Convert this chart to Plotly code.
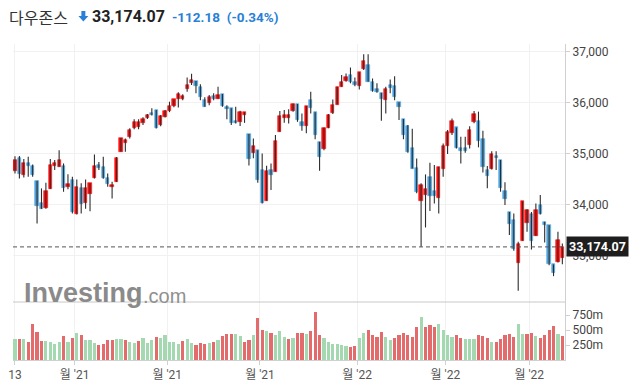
import plotly.graph_objects as go

# ---------------- data ----------------
opens = [34660, 34920, 34580, 34815, 34760, 34465, 34025, 33930, 34315, 34765,
         34745, 34760, 34345, 34485, 33810, 34325, 34040, 34220, 34515, 34770,
         34740, 34530, 34340, 34450, 35040, 35220, 35320, 35500, 35515, 35610,
         35705, 35795, 35855, 35555, 35725, 35835, 35940, 36065, 36070, 36275,
         36390, 36425, 36315, 36050, 35985, 36130, 36080, 36170, 35920, 35890,
         35640, 35630, 35765, 35385, 35020, 35070, 34690, 34080, 34690, 34650,
         35430, 35705, 35705, 35845, 35975, 35615, 35550, 36050, 35815, 35235,
         35085, 35510, 35790, 35965, 36315, 36430, 36540, 36410, 36335, 36655,
         36740, 36410, 36260, 36195, 36050, 36345, 36325, 36010, 35680, 35550,
         35115, 34725, 34070, 34190, 34550, 34275, 34135, 34710, 35155, 35400,
         35515, 35115, 35115, 35170, 35630, 35640, 35290, 34690, 34695, 34960,
         34875, 34270, 33860, 33700, 32850, 33295, 33647, 33815, 33390, 33990,
         33655, 33600, 32830, 32870, 32965]
highs = [34950, 34955, 34895, 34940, 34790, 34470, 34320, 34430, 34895, 34875,
         35070, 34810, 34600, 34550, 34495, 34420, 34495, 34420, 34985, 34840,
         34940, 34615, 34450, 34935, 35310, 35300, 35500, 35675, 35675, 35715,
         35780, 35890, 35855, 35760, 35855, 36020, 36065, 36205, 36165, 36495,
         36570, 36425, 36360, 36105, 36150, 36185, 36315, 36170, 35950, 35890,
         35920, 35845, 35815, 35385, 35300, 35070, 35005, 34765, 34810, 35365,
         35840, 35855, 35870, 35985, 35975, 35790, 35935, 36215, 35815, 35235,
         35515, 35780, 36065, 36315, 36545, 36575, 36690, 36495, 36595, 36950,
         36950, 36475, 36380, 36195, 36315, 36455, 36520, 36010, 35680, 35565,
         35490, 34905, 34420, 34595, 34825, 34780, 34745, 35200, 35465, 35690,
         35515, 35335, 35335, 35540, 35840, 35825, 35450, 34760, 35050, 35050,
         34875, 34440, 33860, 33830, 33275, 34070, 33910, 33860, 34025, 34190,
         33665, 33600, 32830, 33470, 33240]
lows = [34615, 34515, 34535, 34550, 34550, 33635, 33920, 33920, 34310, 34680,
        34745, 34255, 34305, 33830, 33810, 33830, 33920, 33875, 34515, 34680,
        34510, 34355, 34125, 34450, 35040, 35040, 35300, 35480, 35480, 35565,
        35680, 35750, 35495, 35540, 35710, 35815, 35910, 35905, 36050, 36215,
        36345, 36185, 36050, 35920, 35950, 36050, 36080, 35920, 35675, 35565,
        35595, 35545, 35605, 34770, 34910, 34430, 34025, 34080, 34290, 34650,
        35430, 35605, 35595, 35825, 35625, 35450, 35400, 35790, 35285, 34665,
        35070, 35500, 35780, 35965, 36315, 36410, 36380, 36325, 36260, 36640,
        36410, 36215, 36195, 35645, 35790, 36185, 36050, 35660, 35285, 35020,
        34710, 34225, 33175, 33555, 33880, 34025, 33830, 34550, 34995, 35365,
        35105, 34810, 35020, 35105, 35600, 35125, 34630, 34325, 34690, 34680,
        34255, 33995, 33405, 33100, 32315, 33295, 33470, 33125, 33390, 33810,
        33260, 32815, 32600, 32870, 32835]
closes = [34875, 34595, 34815, 34765, 34585, 33980, 33920, 34270, 34770, 34810,
          34875, 34320, 34405, 33855, 34345, 34020, 34325, 34420, 34760, 34725,
          34515, 34400, 34385, 34920, 35310, 35275, 35465, 35630, 35615, 35680,
          35755, 35750, 35495, 35740, 35830, 35935, 36065, 36170, 36130, 36345,
          36445, 36335, 36105, 35920, 36115, 36070, 36150, 35940, 35870, 35610,
          35595, 35815, 35815, 34900, 35150, 34495, 34040, 34660, 34580, 35250,
          35740, 35755, 35755, 35975, 35660, 35545, 35935, 35890, 35365, 34940,
          35505, 35760, 35955, 36300, 36405, 36495, 36410, 36345, 36595, 36815,
          36410, 36235, 36215, 36070, 36260, 36295, 36105, 35920, 35365, 35040,
          34710, 34255, 34385, 34305, 34170, 34175, 34745, 35155, 35430, 35640,
          35105, 35060, 35060, 35475, 35780, 35255, 34745, 34570, 34995, 34910,
          34320, 34110, 33615, 33125, 33230, 34070, 33895, 33295, 33895, 33810,
          33600, 32830, 32655, 33305, 33174.07]

volumes_m = [345, 345, 345, 295, 595, 462, 312, 312, 295, 262,
             295, 395, 295, 362, 445, 417, 328, 328, 278, 245,
             262, 328, 328, 345, 345, 328, 295, 278, 312, 362,
             278, 328, 378, 362, 425, 305, 305, 272, 322, 355,
             290, 255, 290, 272, 290, 300, 340, 400, 432, 430,
             430, 395, 295, 340, 410, 703, 500, 487, 453, 420,
             487, 390, 355, 370, 453, 453, 437, 487, 795, 410,
             362, 295, 262, 262, 245, 228, 212, 228, 362, 445,
             495, 412, 378, 462, 378, 328, 362, 412, 445, 412,
             378, 545, 712, 545, 578, 545, 595, 495, 412, 378,
             412, 362, 345, 345, 345, 412, 395, 362, 295, 295,
             345, 412, 428, 378, 595, 428, 428, 445, 395, 362,
             412, 495, 562, 428, 395]
# G = volume bar green (close up vs previous day), R = red
volume_dir = ("GRGRRRRGGGGRGRGRGGGRRRRGGRGGRGGGRG"
              "GGGGRGGRRRGRGRRRGGRRGRRGRGGGRGRRGRRR"
              "GGGGGGRRGGRRRRGGRRRRRRGRRRGGGGRRGGGRRRGRRRRRGGRRGRRRRGR")

month_start_idx = [14, 35, 56, 78, 98, 117]
month_labels = ["월 '21", "월 '21", "월 '21", "월 '22", "월 '22", "월 '22"]
first_label = "13"

price_ticks = [33000, 34000, 35000, 36000, 37000]
vol_ticks_m = [250, 500, 750]

title_name = "다우존스"
last_price_text = "33,174.07"
change_text = "-112.18  (-0.34%)"

# ---------------- styling ----------------
RED = "#ff0d0d"
BLUE = "#4da2dc"
VGREEN = "#a3d8b1"
VRED = "#e36b6b"
GRID = "#f1f1f1"
AXIS = "#d0d0d0"
FONT = "Roboto, 'Noto Sans CJK KR', sans-serif"

n = len(closes)
idx = list(range(n))

# wicks
wx, wy = [], []
for i in idx:
    wx += [i, i, None]
    wy += [lows[i], highs[i], None]

body_base = [min(o, c) for o, c in zip(opens, closes)]
body_h = [abs(c - o) for o, c in zip(opens, closes)]
body_col = [RED if c >= o else BLUE for o, c in zip(opens, closes)]

vol_col = [VGREEN if d == "G" else VRED for d in volume_dir[:n]]
vols = [v * 1e6 for v in volumes_m]

fig = go.Figure()
fig.add_trace(go.Bar(x=idx, y=vols, marker=dict(color=vol_col, line=dict(width=0)),
                     width=0.72, xaxis="x", yaxis="y2", hoverinfo="skip"))
fig.add_trace(go.Scatter(x=wx, y=wy, mode="lines", line=dict(color="#2d2d2d", width=1.1),
                         xaxis="x", yaxis="y", hoverinfo="skip"))
fig.add_trace(go.Bar(x=idx, y=body_h, base=body_base,
                     marker=dict(color=body_col, line=dict(color=body_col, width=0.6)),
                     width=0.74, xaxis="x", yaxis="y", hoverinfo="skip"))

# layout geometry
W, H = 630, 392
L, R, T, B = 8, 65, 44, 32
pw, ph = W - L - R, H - T - B
sep_y = (H - B - 302) / ph  # boundary between price pane and volume pane

tickvals = [0] + [m - 0.5 for m in month_start_idx]
ticktext = [first_label] + month_labels

fig.update_layout(
    width=W, height=H, margin=dict(l=L, r=R, t=T, b=B),
    paper_bgcolor="white", plot_bgcolor="white", showlegend=False,
    barmode="overlay", bargap=0,
    font=dict(family=FONT, color="#555"),
    xaxis=dict(domain=[0, 1], range=[-0.45, 124.6], anchor="y2",
               tickvals=tickvals, ticktext=ticktext,
               showgrid=True, gridcolor=GRID, gridwidth=1, zeroline=False,
               showline=True, linecolor=AXIS, ticks="outside", ticklen=4,
               tickcolor=AXIS, tickfont=dict(size=12, color="#555")),
    yaxis=dict(domain=[sep_y, 1], range=[32094, 37151], side="right", anchor="x",
               tickvals=price_ticks, ticktext=[f"{v:,}" for v in price_ticks],
               showgrid=True, gridcolor=GRID, zeroline=False,
               showline=True, linecolor=AXIS, ticks="outside", ticklen=4,
               tickcolor=AXIS, tickfont=dict(size=12, color="#444")),
    yaxis2=dict(domain=[0, sep_y], range=[0, 966.7e6], side="right", anchor="x",
                tickvals=[v * 1e6 for v in vol_ticks_m],
                ticktext=[f"{v}m" for v in vol_ticks_m],
                showgrid=False, zeroline=False,
                showline=True, linecolor=AXIS, ticks="outside", ticklen=4,
                tickcolor=AXIS, tickfont=dict(size=12, color="#444")),
)

def px(x):
    return (x - L) / pw

def py(y):
    return (H - B - y) / ph

# down-arrow icon in the header (paper coordinates)
ax0, ay0 = 79, 11
arrow_pts = [(ax0 - 2, ay0), (ax0 + 2, ay0), (ax0 + 2, ay0 + 5), (ax0 + 5, ay0 + 5),
             (ax0, ay0 + 10.5), (ax0 - 5, ay0 + 5), (ax0 - 2, ay0 + 5)]
arrow_path = "M " + " L ".join(f"{px(a):.5f},{py(b):.5f}" for a, b in arrow_pts) + " Z"

shapes = [
    dict(type="line", xref="paper", yref="paper", x0=0, x1=1, y0=sep_y, y1=sep_y,
         line=dict(color="#c8c8c8", width=1)),
    dict(type="line", xref="paper", yref="y", x0=0, x1=1, y0=closes[-1], y1=closes[-1],
         line=dict(color="#555", width=1, dash="4px,3px")),
    dict(type="path", xref="paper", yref="paper", path=arrow_path,
         fillcolor="#2a7fd6", line=dict(width=0)),
]

annotations = [
    # logo watermark
    dict(xref="paper", yref="paper", x=px(17), y=py(292.5), xanchor="left", yanchor="middle",
         text="<b>Investing</b>", showarrow=False,
         font=dict(family="Liberation Sans, Arial", size=27, color="#8a8a8a")),
    dict(xref="paper", yref="paper", x=px(137), y=py(295.5), xanchor="left", yanchor="middle",
         text=".com", showarrow=False,
         font=dict(family="Liberation Sans, Arial", size=20, color="#909090")),
    # header
    dict(xref="paper", yref="paper", x=px(2), y=py(17), xanchor="left", yanchor="middle",
         text=title_name, showarrow=False,
         font=dict(family="'Noto Sans CJK KR'", size=16, color="#333")),
    dict(xref="paper", yref="paper", x=px(86), y=py(17), xanchor="left", yanchor="middle",
         text="<b>" + last_price_text + "</b>", showarrow=False,
         font=dict(family="Roboto", size=16, color="#222")),
    dict(xref="paper", yref="paper", x=px(166), y=py(17), xanchor="left", yanchor="middle",
         text="<b>" + change_text + "</b>", showarrow=False,
         font=dict(family="Roboto", size=13.5, color="#2a7fd6")),
    # last price tag
    dict(xref="paper", yref="y", x=px(566), y=closes[-1], xanchor="left", yanchor="middle",
         text="<b>" + last_price_text + "</b>", showarrow=False,
         bgcolor="#1e1e1e", borderpad=2,
         font=dict(family="Roboto", size=12.5, color="white")),
]

fig.update_layout(shapes=shapes, annotations=annotations)
fig.write_html("out.html", config={"displayModeBar": False},
               post_script="document.body.style.margin='0';document.body.style.overflow='hidden';")
